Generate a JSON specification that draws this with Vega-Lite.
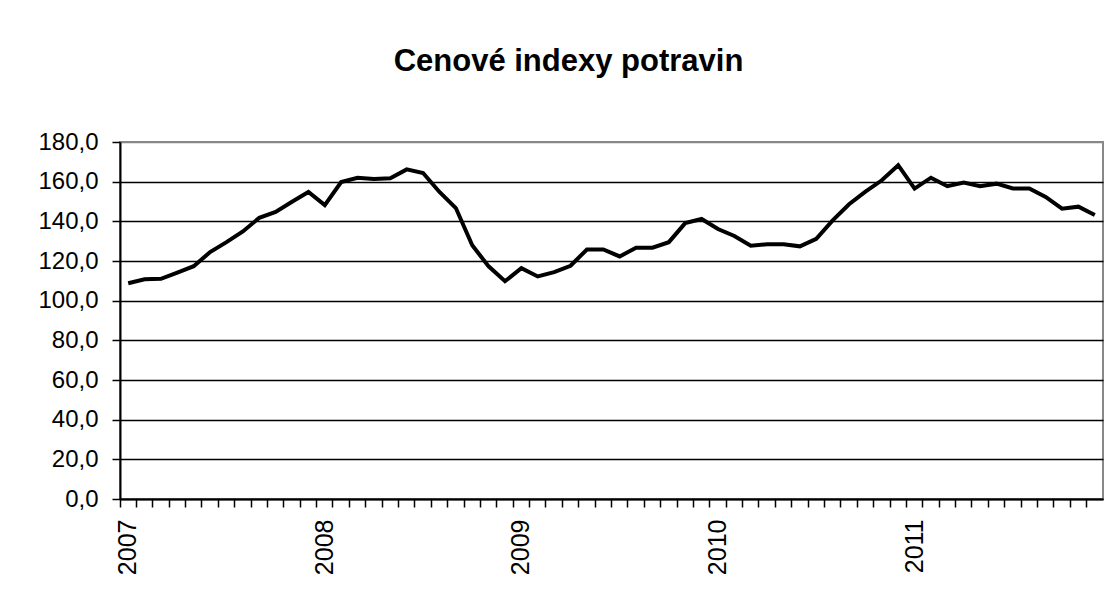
{
  "$schema": "https://vega.github.io/schema/vega-lite/v6.json",
  "width": 983,
  "height": 357,
  "autosize": {"type": "none"},
  "padding": {"left": 120, "top": 142, "right": 5, "bottom": 96},
  "background": "white",
  "title": {
    "text": "Cenové indexy potravin",
    "font": "Liberation Sans",
    "fontSize": 31,
    "fontWeight": "bold",
    "color": "black",
    "anchor": "middle",
    "dx": -43,
    "offset": 52
  },
  "config": {
    "view": {"stroke": "#888888", "strokeWidth": 2},
    "axis": {"labelFont": "Liberation Sans", "labelColor": "black", "domainColor": "black", "tickColor": "black"}
  },
  "data": {
    "values": [
      {"month": "2007-01", "value": 108.8},
      {"month": "2007-02", "value": 110.8},
      {"month": "2007-03", "value": 111.0},
      {"month": "2007-04", "value": 114.1},
      {"month": "2007-05", "value": 117.4},
      {"month": "2007-06", "value": 124.5},
      {"month": "2007-07", "value": 129.5},
      {"month": "2007-08", "value": 134.9},
      {"month": "2007-09", "value": 141.8},
      {"month": "2007-10", "value": 144.7},
      {"month": "2007-11", "value": 149.9},
      {"month": "2007-12", "value": 154.8},
      {"month": "2008-01", "value": 148.2},
      {"month": "2008-02", "value": 159.8},
      {"month": "2008-03", "value": 162.0},
      {"month": "2008-04", "value": 161.3},
      {"month": "2008-05", "value": 161.7},
      {"month": "2008-06", "value": 166.2},
      {"month": "2008-07", "value": 164.4},
      {"month": "2008-08", "value": 154.8},
      {"month": "2008-09", "value": 146.7},
      {"month": "2008-10", "value": 127.9},
      {"month": "2008-11", "value": 117.3},
      {"month": "2008-12", "value": 109.8},
      {"month": "2009-01", "value": 116.4},
      {"month": "2009-02", "value": 112.2},
      {"month": "2009-03", "value": 114.4},
      {"month": "2009-04", "value": 117.6},
      {"month": "2009-05", "value": 125.8},
      {"month": "2009-06", "value": 125.8},
      {"month": "2009-07", "value": 122.3},
      {"month": "2009-08", "value": 126.7},
      {"month": "2009-09", "value": 126.7},
      {"month": "2009-10", "value": 129.5},
      {"month": "2009-11", "value": 139.1},
      {"month": "2009-12", "value": 141.2},
      {"month": "2010-01", "value": 136.1},
      {"month": "2010-02", "value": 132.6},
      {"month": "2010-03", "value": 127.7},
      {"month": "2010-04", "value": 128.4},
      {"month": "2010-05", "value": 128.4},
      {"month": "2010-06", "value": 127.4},
      {"month": "2010-07", "value": 131.2},
      {"month": "2010-08", "value": 140.5},
      {"month": "2010-09", "value": 148.6},
      {"month": "2010-10", "value": 155.0},
      {"month": "2010-11", "value": 160.7},
      {"month": "2010-12", "value": 168.3},
      {"month": "2011-01", "value": 156.5},
      {"month": "2011-02", "value": 162.0},
      {"month": "2011-03", "value": 157.7},
      {"month": "2011-04", "value": 159.5},
      {"month": "2011-05", "value": 157.7},
      {"month": "2011-06", "value": 159.0},
      {"month": "2011-07", "value": 156.6},
      {"month": "2011-08", "value": 156.6},
      {"month": "2011-09", "value": 152.3},
      {"month": "2011-10", "value": 146.4},
      {"month": "2011-11", "value": 147.4},
      {"month": "2011-12", "value": 143.2}
    ]
  },
  "mark": {"type": "line", "color": "black", "strokeWidth": 4},
  "encoding": {
    "x": {
      "field": "month",
      "type": "ordinal",
      "scale": {"type": "band", "paddingInner": 0, "paddingOuter": 0},
      "axis": {
        "title": null,
        "bandPosition": 0,
        "tickSize": 8,
        "tickWidth": 1.5,
        "domainWidth": 2,
        "labelAngle": 270,
        "labelAlign": "right",
        "labelBaseline": "middle",
        "labelFontSize": 25,
        "labelPadding": 12,
        "labelOverlap": false,
        "labelExpr": "slice(datum.value, 5) == '01' ? slice(datum.value, 0, 4) : ''",
        "grid": false
      }
    },
    "y": {
      "field": "value",
      "type": "quantitative",
      "scale": {"domain": [0, 180], "nice": false, "zero": true},
      "axis": {
        "title": null,
        "values": [0, 20, 40, 60, 80, 100, 120, 140, 160, 180],
        "labelExpr": "replace(format(datum.value, '.1f'), '.', ',')",
        "labelFontSize": 24,
        "labelPadding": 14,
        "tickSize": 8,
        "tickWidth": 1.5,
        "domainWidth": 2,
        "grid": true,
        "gridWidth": 1.5,
        "gridOpacity": 1,
        "gridColor": {"condition": {"test": "datum.value == 180", "value": "#888888"}, "value": "black"}
      }
    }
  }
}
